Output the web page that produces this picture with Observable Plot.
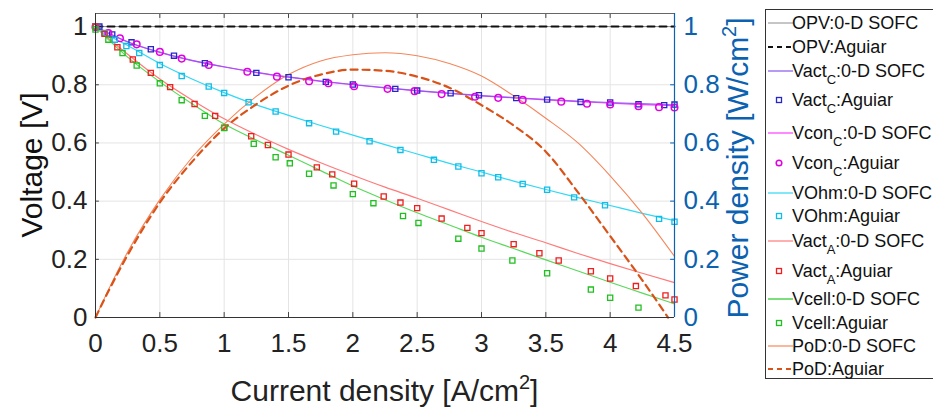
<!DOCTYPE html>
<html>
<head>
<meta charset="utf-8">
<script src="https://cdn.jsdelivr.net/npm/d3@7"></script>
<script src="https://cdn.jsdelivr.net/npm/@observablehq/plot@0.6"></script>
<style>
  html, body { margin: 0; padding: 0; background: #fff; overflow: hidden; }
  #wrap { position: relative; width: 933px; height: 414px; font-family: "Liberation Sans", Arial, Helvetica, sans-serif; }
  #legend { position: absolute; left: 765px; top: 9px; width: 200px; height: 370px; border: 1px solid #333; box-sizing: border-box; background: #fff; }
  .row { position: absolute; left: 0; height: 20px; line-height: 20px; font-size: 18px; color: #111; white-space: nowrap; }
  .row svg { position: absolute; left: 0; top: 0; }
  .row span { position: absolute; left: 26px; top: 0; }
  sub { font-size: 13px; vertical-align: -7px; line-height: 0; }
</style>
</head>
<body>
<div id="wrap"><div id="legend"></div></div>
<script>
// ---------------- data ----------------
const xTicks = [0, 0.5, 1, 1.5, 2, 2.5, 3, 3.5, 4, 4.5];
const yTicks = [0, 0.2, 0.4, 0.6, 0.8, 1];

// 0-D SOFC model current grid
const modelX = [0, 0.1, 0.25, 0.5, 0.75, 1, 1.25, 1.5, 1.75, 2, 2.25, 2.5, 2.75, 3, 3.25, 3.5, 3.75, 4, 4.25, 4.5];
const opvModel   = [1, 1, 1, 1, 1, 1, 1, 1, 1, 1, 1, 1, 1, 1, 1, 1, 1, 1, 1, 1];
const vactCModel = [1.0, 0.978, 0.948, 0.912, 0.884, 0.862, 0.843, 0.827, 0.813, 0.801, 0.790, 0.780, 0.771, 0.763, 0.756, 0.750, 0.744, 0.739, 0.735, 0.731];
const vconCModel = [1.0, 0.977, 0.947, 0.911, 0.883, 0.861, 0.842, 0.826, 0.812, 0.800, 0.789, 0.779, 0.770, 0.762, 0.755, 0.748, 0.742, 0.737, 0.732, 0.728];
const vohmModel  = [1.0, 0.970, 0.935, 0.873, 0.820, 0.773, 0.731, 0.695, 0.660, 0.627, 0.594, 0.562, 0.530, 0.500, 0.469, 0.440, 0.412, 0.385, 0.358, 0.333];
const vactAModel = [1.0, 0.960, 0.905, 0.820, 0.748, 0.683, 0.628, 0.578, 0.532, 0.489, 0.448, 0.410, 0.370, 0.330, 0.292, 0.257, 0.220, 0.185, 0.152, 0.120];
const vcellModel = [1.0, 0.955, 0.895, 0.810, 0.735, 0.665, 0.610, 0.558, 0.505, 0.452, 0.405, 0.360, 0.318, 0.276, 0.237, 0.198, 0.160, 0.121, 0.084, 0.047];
const podModel   = [0, 0.095, 0.225, 0.405, 0.550, 0.665, 0.760, 0.835, 0.882, 0.903, 0.910, 0.900, 0.873, 0.830, 0.762, 0.685, 0.600, 0.487, 0.358, 0.210];

// Aguiar reference data
const opvAgX = [0, 4.5];
const opvAgY = [1, 1];
const podAgX = [0, 0.1, 0.25, 0.5, 0.75, 1, 1.25, 1.5, 1.75, 2, 2.25, 2.5, 2.75, 3, 3.25, 3.5, 3.75, 4, 4.25, 4.45];
const podAgY = [0, 0.09, 0.215, 0.395, 0.535, 0.650, 0.733, 0.797, 0.835, 0.852, 0.848, 0.828, 0.790, 0.730, 0.660, 0.570, 0.430, 0.280, 0.128, 0.0];

const vactCAgX = [0, 0.03, 0.13, 0.28, 0.43, 0.61, 0.85, 1.25, 1.50, 1.79, 2.0, 2.33, 2.50, 2.76, 2.98, 3.27, 3.51, 3.77, 4.0, 4.22, 4.42, 4.5];
const vactCAgY = [1.0, 1.0, 0.973, 0.946, 0.922, 0.900, 0.874, 0.841, 0.826, 0.810, 0.801, 0.786, 0.780, 0.771, 0.764, 0.754, 0.749, 0.741, 0.739, 0.733, 0.730, 0.732];

const vconCAgX = [0, 0.10, 0.19, 0.32, 0.50, 0.67, 0.88, 1.18, 1.41, 1.66, 1.81, 2.01, 2.27, 2.48, 2.69, 2.95, 3.13, 3.32, 3.62, 3.82, 4.0, 4.22, 4.38, 4.5];
const vconCAgY = [0.998, 0.978, 0.960, 0.939, 0.913, 0.890, 0.868, 0.845, 0.828, 0.812, 0.805, 0.795, 0.786, 0.778, 0.768, 0.759, 0.755, 0.748, 0.742, 0.735, 0.732, 0.726, 0.723, 0.722];

const vohmAgX = [0, 0.07, 0.15, 0.24, 0.34, 0.50, 0.67, 0.88, 1.0, 1.19, 1.40, 1.66, 1.87, 2.13, 2.37, 2.63, 2.82, 3.0, 3.13, 3.32, 3.51, 3.72, 3.96, 4.38, 4.5];
const vohmAgY = [1.0, 0.978, 0.955, 0.933, 0.909, 0.868, 0.830, 0.794, 0.772, 0.740, 0.708, 0.668, 0.639, 0.606, 0.576, 0.542, 0.519, 0.496, 0.482, 0.459, 0.439, 0.413, 0.386, 0.339, 0.329];

const vactAAgX = [0, 0.07, 0.17, 0.29, 0.43, 0.58, 0.77, 0.93, 1.0, 1.21, 1.34, 1.50, 1.72, 1.84, 2.01, 2.24, 2.37, 2.50, 2.69, 2.89, 3.0, 3.25, 3.45, 3.60, 3.85, 4.0, 4.20, 4.43, 4.5];
const vactAAgY = [1.0, 0.975, 0.929, 0.887, 0.841, 0.792, 0.734, 0.693, 0.652, 0.623, 0.593, 0.560, 0.516, 0.492, 0.460, 0.416, 0.395, 0.376, 0.340, 0.308, 0.290, 0.252, 0.221, 0.196, 0.159, 0.134, 0.108, 0.076, 0.062];

const vcellAgX = [0, 0.10, 0.21, 0.32, 0.50, 0.67, 0.85, 1.0, 1.23, 1.40, 1.51, 1.66, 1.85, 2.0, 2.16, 2.39, 2.51, 2.82, 3.0, 3.24, 3.51, 3.85, 4.0, 4.22];
const vcellAgY = [0.99, 0.955, 0.909, 0.866, 0.805, 0.747, 0.693, 0.651, 0.597, 0.551, 0.530, 0.494, 0.454, 0.424, 0.393, 0.349, 0.325, 0.271, 0.237, 0.196, 0.152, 0.096, 0.068, 0.034];

const legendLabels = [
  "OPV:0-D SOFC", "OPV:Aguiar",
  "Vact<sub>C</sub>:0-D SOFC", "Vact<sub>C</sub>:Aguiar",
  "Vcon<sub>C</sub>:0-D SOFC", "Vcon<sub>C</sub>:Aguiar",
  "VOhm:0-D SOFC", "VOhm:Aguiar",
  "Vact<sub>A</sub>:0-D SOFC", "Vact<sub>A</sub>:Aguiar",
  "Vcell:0-D SOFC", "Vcell:Aguiar",
  "PoD:0-D SOFC", "PoD:Aguiar"
];

// ---------------- styles ----------------
const C = {
  opv: "#8c8c8c", opvAg: "#111111",
  vactCLine: "#8458f0", vactCMark: "#2626c8",
  vconCLine: "#ff3cff", vconCMark: "#e000e0",
  vohmLine: "#30d8f5", vohmMark: "#10bde8",
  vactALine: "#ff7a7a", vactAMark: "#f01e1e",
  vcellLine: "#5ad85a", vcellMark: "#20c020",
  podLine: "#f5865a", podAg: "#d95319",
  blue: "#0a62b0"
};

const rows = (xs, ys) => xs.map((x, i) => ({x, y: ys[i]}));
const model = ys => rows(modelX, ys);

const sq = (data, color) => Plot.dot(data, {x: "x", y: "y", symbol: "square", r: 2.9, stroke: color, strokeWidth: 1.3, fill: "none"});

const plot = Plot.plot({
  width: 933,
  height: 414,
  marginLeft: 95,
  marginRight: 259,
  marginTop: 13,
  marginBottom: 97,
  x: {domain: [0, 4.5]},
  y: {domain: [0, 1.045]},
  style: {fontFamily: "'Liberation Sans', Arial, Helvetica, sans-serif", background: "transparent", overflow: "visible"},
  marks: [
    Plot.gridX(xTicks, {stroke: "#e4e4e4", strokeOpacity: 1}),
    Plot.gridY(yTicks, {stroke: "#e4e4e4", strokeOpacity: 1}),
    // inward tick marks
    Plot.ruleX(xTicks, {y1: 0, y2: 0.017, stroke: "#444"}),
    Plot.ruleX(xTicks, {y1: 1.045 - 0.017, y2: 1.045, stroke: "#444"}),
    Plot.ruleY(yTicks, {x1: 0, x2: 0.03, stroke: "#444"}),
    Plot.ruleY(yTicks, {x1: 4.5 - 0.03, x2: 4.5, stroke: C.blue}),
    // model lines
    Plot.line(model(opvModel), {x: "x", y: "y", stroke: C.opv, strokeWidth: 1}),
    Plot.line(rows(opvAgX, opvAgY), {x: "x", y: "y", stroke: C.opvAg, strokeWidth: 2, strokeDasharray: "7,5"}),
    Plot.line(model(vconCModel), {x: "x", y: "y", stroke: C.vconCLine, strokeWidth: 1.2, curve: "monotone-x"}),
    Plot.line(model(vactCModel), {x: "x", y: "y", stroke: C.vactCLine, strokeWidth: 1.2, strokeOpacity: 0.85, curve: "monotone-x"}),
    Plot.line(model(vohmModel), {x: "x", y: "y", stroke: C.vohmLine, strokeWidth: 1.2, curve: "monotone-x"}),
    Plot.line(model(vactAModel), {x: "x", y: "y", stroke: C.vactALine, strokeWidth: 1.2, curve: "monotone-x"}),
    Plot.line(model(vcellModel), {x: "x", y: "y", stroke: C.vcellLine, strokeWidth: 1.2, curve: "monotone-x"}),
    Plot.line(model(podModel), {x: "x", y: "y", stroke: C.podLine, strokeWidth: 1.1, curve: "monotone-x"}),
    Plot.line(rows(podAgX, podAgY), {x: "x", y: "y", stroke: C.podAg, strokeWidth: 2.2, strokeDasharray: "7,5", curve: "monotone-x"}),
    // Aguiar markers
    sq(rows(vactCAgX, vactCAgY), C.vactCMark),
    Plot.dot(rows(vconCAgX, vconCAgY), {x: "x", y: "y", r: 3.3, stroke: C.vconCMark, strokeWidth: 1.5, fill: "none"}),
    sq(rows(vohmAgX, vohmAgY), C.vohmMark),
    sq(rows(vactAAgX, vactAAgY), C.vactAMark),
    sq(rows(vcellAgX, vcellAgY), C.vcellMark),
    // axis frame lines
    Plot.ruleY([1.045], {stroke: "#666", strokeWidth: 1}),
    Plot.ruleY([0], {stroke: "#333", strokeWidth: 1}),
    Plot.ruleX([0], {stroke: "#333", strokeWidth: 1}),
    Plot.ruleX([4.5], {stroke: C.blue, strokeWidth: 1.2}),
    // axes
    Plot.axisX(xTicks, {tickSize: 0, tickPadding: 16, fontSize: 26, fill: "#222", label: null, tickFormat: d => String(d)}),
    Plot.axisY(yTicks, {anchor: "left", tickSize: 0, tickPadding: 8, fontSize: 26, fill: "#222", label: null, tickFormat: d => String(d)}),
    Plot.axisY(yTicks, {anchor: "right", tickSize: 0, tickPadding: 9, fontSize: 26, fill: C.blue, label: null, tickFormat: d => String(d)})
  ]
});

const wrap = document.getElementById("wrap");
wrap.insertBefore(plot, wrap.firstChild);

// axis titles with superscripts
const svg = d3.select(plot);
const titleFont = "'Liberation Sans', Arial, Helvetica, sans-serif";
function title(x, y, rotate, color, main, sup, tail) {
  const t = svg.append("text")
    .attr("transform", `translate(${x},${y}) rotate(${rotate})`)
    .attr("text-anchor", "middle")
    .attr("font-family", titleFont)
    .attr("font-size", 30)
    .attr("fill", color)
    .attr("dy", "0.35em");
  t.append("tspan").text(main);
  if (sup) {
    t.append("tspan").attr("font-size", 20).attr("dy", -12).text(sup);
    t.append("tspan").attr("dy", 12).text(tail);
  }
}
title(384.5, 390, 0, "#222", "Current density [A/cm", "2", "]");
title(31, 165, -90, "#111", "Voltage [V]");
title(737, 168, -90, C.blue, "Power density [W/cm", "2", "]");

// legend
const legendY = [22, 46, 70, 99, 132, 162, 192, 215, 240, 270, 298, 322, 345, 368];
const legendKind = [
  {type: "line", color: C.opv, w: 1}, {type: "line", color: C.opvAg, w: 2, dash: "5,4"},
  {type: "line", color: C.vactCLine, w: 1.2}, {type: "square", color: C.vactCMark},
  {type: "line", color: C.vconCLine, w: 1.2}, {type: "circle", color: C.vconCMark},
  {type: "line", color: C.vohmLine, w: 1.2}, {type: "square", color: C.vohmMark},
  {type: "line", color: C.vactALine, w: 1.2}, {type: "square", color: C.vactAMark},
  {type: "line", color: C.vcellLine, w: 1.6}, {type: "square", color: C.vcellMark},
  {type: "line", color: C.podLine, w: 1.2}, {type: "line", color: C.podAg, w: 2, dash: "5,4"}
];
const legend = document.getElementById("legend");
legendLabels.forEach((lab, i) => {
  const k = legendKind[i];
  const row = document.createElement("div");
  row.className = "row";
  row.style.top = (legendY[i] - 9 - 10) + "px";
  let sym;
  if (k.type === "line") sym = `<line x1="2" x2="27" y1="10" y2="10" stroke="${k.color}" stroke-width="${k.w}" ${k.dash ? `stroke-dasharray="${k.dash}"` : ""}/>`;
  else if (k.type === "square") sym = `<rect x="10.5" y="7.5" width="5" height="5" fill="none" stroke="${k.color}" stroke-width="1.3"/>`;
  else sym = `<circle cx="13" cy="10" r="2.8" fill="none" stroke="${k.color}" stroke-width="1.5"/>`;
  row.innerHTML = `<svg width="28" height="20">${sym}</svg><span>${lab}</span>`;
  legend.appendChild(row);
});
</script>
</body>
</html>
